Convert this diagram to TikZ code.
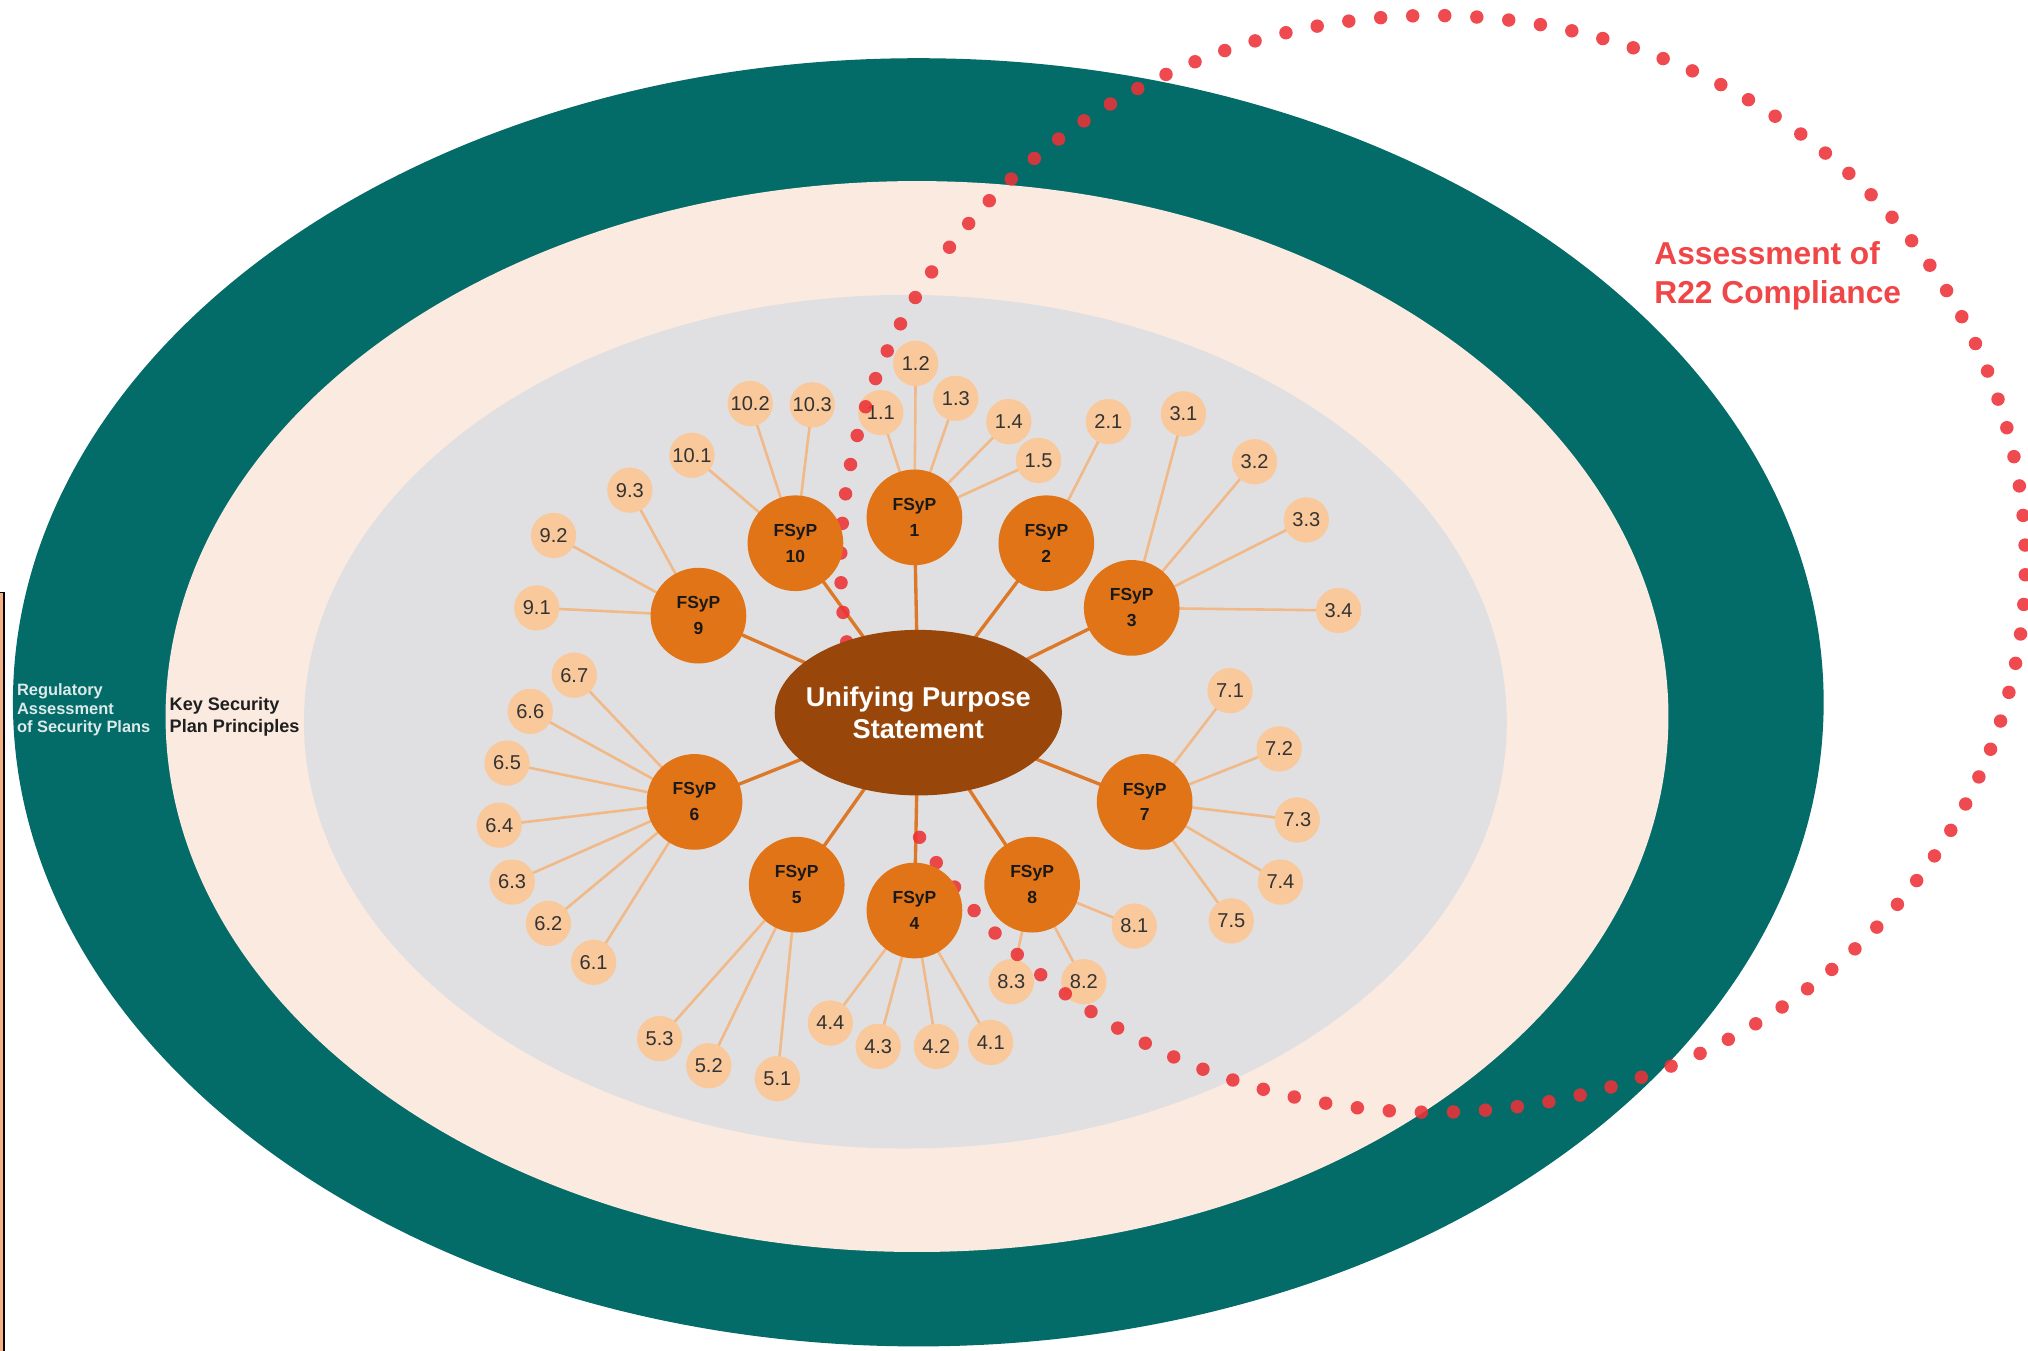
\documentclass[tikz,border=0pt]{standalone}
\usepackage{fontspec}
\setmainfont{Liberation Sans}
\usetikzlibrary{shapes.geometric}

\definecolor{ringteal}{RGB}{3,107,104}
\definecolor{ringpeach}{RGB}{251,234,224}
\definecolor{coregray}{RGB}{224,224,226}
\definecolor{fsyporange}{RGB}{226,116,24}
\definecolor{leafpeach}{RGB}{249,200,155}
\definecolor{hubbrown}{RGB}{152,70,10}
\definecolor{linkdark}{RGB}{220,120,40}
\definecolor{linklight}{RGB}{240,185,135}
\definecolor{assessred}{RGB}{240,70,72}
\definecolor{dotred}{RGB}{236,50,55}
\definecolor{boxorange}{RGB}{244,177,131}

\pgfdeclarelayer{bg}
\pgfdeclarelayer{links}
\pgfdeclarelayer{leaves}
\pgfdeclarelayer{dots}
\pgfsetlayers{bg,links,leaves,dots,main}

\begin{document}
\begin{tikzpicture}[x=1pt,y=-1pt,
  fsyp/.style={circle, fill=fsyporange, minimum size=74pt, inner sep=0pt,
    font=\fontsize{13.5}{20}\selectfont\bfseries, text=black!90, align=center},
  leaf/.style={circle, fill=leafpeach, minimum size=35pt, inner sep=0pt,
    font=\fontsize{15.5}{18}\selectfont, text=black!80},
  hublink/.style={draw=linkdark, line width=2.6pt},
  leaflink/.style={draw=linklight, line width=2pt},
  dotmark/.style={fill=dotred, opacity=0.88}]

\useasboundingbox (0,0) rectangle (1568,1044);

% nested rings
\begin{pgfonlayer}{bg}
  \fill[white] (0,0) rectangle (1568,1044);
  \fill[ringteal] (710,543) ellipse [x radius=700, y radius=498];
  \fill[ringpeach] (709,554) ellipse [x radius=581, y radius=414];
  \fill[coregray] (700,558) ellipse [x radius=465, y radius=330];
  % edge of the framed box on the left
  \fill[boxorange] (-10,458) rectangle (3,1050);
  \draw[black, line width=1.3pt] (-10,458) -- (3,458) -- (3,1050);
\end{pgfonlayer}

% ring captions
\node[anchor=west, align=left, inner sep=0pt, text=white!86!ringteal,
  font=\fontsize{12.7}{14.2}\selectfont\bfseries] (reg) at (13,549)
  {Regulatory\\Assessment\\of Security Plans};
\node[anchor=west, align=left, inner sep=0pt, text=black!88,
  font=\fontsize{14}{17}\selectfont\bfseries] (ksp) at (131,554.5)
  {Key Security\\Plan Principles};

% principle nodes
\foreach \i/\x/\y in {1/707/400, 2/809/420, 3/875/470, 7/885/620, 8/798/684,
                      4/707/704, 5/616/684, 6/537/620, 9/540/476, 10/615/420}
  \node[fsyp] (F\i) at (\x,\y) {FSyP\\\i};

% sub-principle nodes and their links
\foreach \p/\q/\x/\y in {
  1/1/681/319, 1/2/708/281, 1/3/739/308, 1/4/780/326, 1/5/803/356,
  2/1/857/326,
  3/1/915/320, 3/2/970/357, 3/3/1010/402, 3/4/1035/472,
  4/1/766/806, 4/2/724/809, 4/3/679/809, 4/4/642/791,
  5/1/601/834, 5/2/548/824, 5/3/510/803,
  6/1/459/744, 6/2/424/714, 6/3/396/682, 6/4/386/638, 6/5/392/590, 6/6/410/550, 6/7/444/522,
  7/1/951/534, 7/2/989/579, 7/3/1003/634, 7/4/990/682, 7/5/952/712,
  8/1/877/716, 8/2/838/759, 8/3/782/759,
  9/1/415/470, 9/2/428/414, 9/3/487/379,
  10/1/535/352, 10/2/580/312, 10/3/628/313} {
  \begin{pgfonlayer}{leaves}
    \node[leaf] (L\p-\q) at (\x,\y) {\p.\q};
  \end{pgfonlayer}
  \begin{pgfonlayer}{links}
    \draw[leaflink] (F\p.center) -- (L\p-\q.center);
  \end{pgfonlayer}
}

% compliance boundary: a ring of evenly spaced dots, open just below the hub
\begin{pgfonlayer}{dots}
  \foreach \k in {0,2,3,...,115} {
    \pgfmathsetmacro{\ang}{150.1+\k*3.10345}
    \fill[dotmark] ({1108+458*cos(\ang)},{436+424*sin(\ang)}) circle [radius=5.2];
  }
\end{pgfonlayer}
\node[anchor=west, align=left, inner sep=0pt, text=assessred,
  font=\fontsize{24.5}{30}\selectfont\bfseries] (r22) at (1279,213)
  {Assessment of\\R22 Compliance};

% central statement
\node[ellipse, fill=hubbrown, minimum width=222pt, minimum height=128pt, inner sep=0pt]
  (hub) at (710,551) {};
\node[text=white, align=center, inner sep=0pt, font=\fontsize{21}{25}\selectfont\bfseries]
  (hubtext) at (hub.center) {Unifying Purpose\\Statement};

\begin{pgfonlayer}{links}
  \foreach \i in {1,...,10}
    \draw[hublink] (hub.center) -- (F\i.center);
\end{pgfonlayer}
\end{tikzpicture}
\end{document}
